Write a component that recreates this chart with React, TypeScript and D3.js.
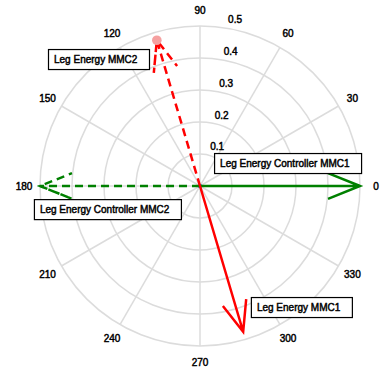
import * as d3 from "d3";

const angleTicks = [0, 30, 60, 90, 120, 150, 180, 210, 240, 270, 300, 330];
const radiusTicks = [0.1, 0.2, 0.3, 0.4, 0.5];

const seriesNames = [
  "Leg Energy Controller MMC1",
  "Leg Energy Controller MMC2",
  "Leg Energy MMC1",
  "Leg Energy MMC2",
];
const seriesAngles = [0, 180, 286.5, 106.5];
const seriesMagnitudes = [0.5, 0.5, 0.475, 0.475];
const seriesColors = ["#008000", "#008000", "#ff0000", "#ff0000"];
const seriesDashed = [false, true, false, true];

// label box top-left corners, in data units (x, y)
const labelX = [0.044, -0.519, 0.159, -0.475];
const labelY = [0.103, -0.041, -0.347, 0.428];

const W = 382;
const H = 371;
const cx = 200;
const cy = 186;
const R = 160;
const FONT = "'Liberation Sans', Arial, Helvetica, sans-serif";

export default function App() {
  const r = d3.scaleLinear().domain([0, 0.5]).range([0, R]);
  const px = (x: number) => cx + r(x);
  const py = (y: number) => cy - r(y);
  const rad = (deg: number) => (deg * Math.PI) / 180;

  const measure = (s: string) => {
    const c = document.createElement("canvas").getContext("2d")!;
    c.font = `10px ${FONT}`;
    return c.measureText(s).width;
  };

  const arrows = seriesNames.map((name, i) => {
    const a = rad(seriesAngles[i]);
    const m = seriesMagnitudes[i];
    const tip: [number, number] = [m * Math.cos(a), m * Math.sin(a)];
    // compass-style arrowhead: barbs at 0.8 length, +-0.08 perpendicular
    const back: [number, number] = [0.8 * tip[0], 0.8 * tip[1]];
    const perp: [number, number] = [-0.08 * tip[1], 0.08 * tip[0]];
    const pts: [number, number][] = [
      [0, 0],
      tip,
      [back[0] + perp[0], back[1] + perp[1]],
      tip,
      [back[0] - perp[0], back[1] - perp[1]],
    ];
    const line = d3
      .line<[number, number]>()
      .x((d) => px(d[0]))
      .y((d) => py(d[1]));
    return { name, d: line(pts)!, tip, i };
  });

  return (
    <svg
      width={W}
      height={H}
      style={{ position: "absolute", left: 0, top: 0, background: "#fff" }}
      fontFamily={FONT}
    >
      {/* grid rings */}
      {radiusTicks.map((t) => (
        <circle key={t} cx={cx} cy={cy} r={r(t)} fill="none" stroke="#dcdcdc" strokeWidth={1.5} />
      ))}
      {/* spokes */}
      {angleTicks.slice(0, 6).map((a) => (
        <line
          key={a}
          x1={px(-0.5 * Math.cos(rad(a)))}
          y1={py(-0.5 * Math.sin(rad(a)))}
          x2={px(0.5 * Math.cos(rad(a)))}
          y2={py(0.5 * Math.sin(rad(a)))}
          stroke="#dcdcdc"
          strokeWidth={1.5}
        />
      ))}
      {/* angle labels */}
      {angleTicks.map((a) => (
        <text
          key={a}
          x={px(0.55 * Math.cos(rad(a)))}
          y={py(0.55 * Math.sin(rad(a)))}
          dy="0.35em"
          textAnchor="middle"
          fontSize={10}
          fill="#000"
          stroke="#000"
          strokeWidth={0.45}
        >
          {a}
        </text>
      ))}
      {/* radius labels */}
      {radiusTicks.map((t) => {
        const rr = t + 0.005;
        return (
          <text
            key={t}
            x={px(rr * Math.cos(rad(82))) + 5.6}
            y={py(rr * Math.sin(rad(82))) - 2.5}
            fontSize={10}
            fill="#000"
            stroke="#000"
            strokeWidth={0.45}
          >
            {t}
          </text>
        );
      })}
      <circle cx={px(0)} cy={py(0)} r={2.2} fill="#1f77d4" />
      {/* arrows */}
      {arrows.map((a) => (
        <path
          key={a.name}
          d={a.d}
          fill="none"
          stroke={seriesColors[a.i]}
          strokeWidth={2.5}
          strokeDasharray={seriesDashed[a.i] ? "8,5" : undefined}
          strokeLinejoin="miter"
        />
      ))}
      <circle cx={px(arrows[3].tip[0])} cy={py(arrows[3].tip[1])} r={4.8} fill="#f5a0a0" />
      {/* labels */}
      {seriesNames.map((name, i) => {
        const w = measure(name);
        const x0 = px(labelX[i]);
        const y0 = py(labelY[i]);
        return (
          <g key={name}>
            <rect
              x={x0 + 0.5}
              y={y0 + 0.5}
              width={Math.round(w + 18)}
              height={20}
              fill="#fff"
              stroke="#000"
              strokeWidth={1.2}
            />
            <text
              x={x0 + 6}
              y={y0 + 14}
              fontSize={10}
              fill="#000"
              stroke="#000"
              strokeWidth={0.45}
            >
              {name}
            </text>
          </g>
        );
      })}
    </svg>
  );
}
